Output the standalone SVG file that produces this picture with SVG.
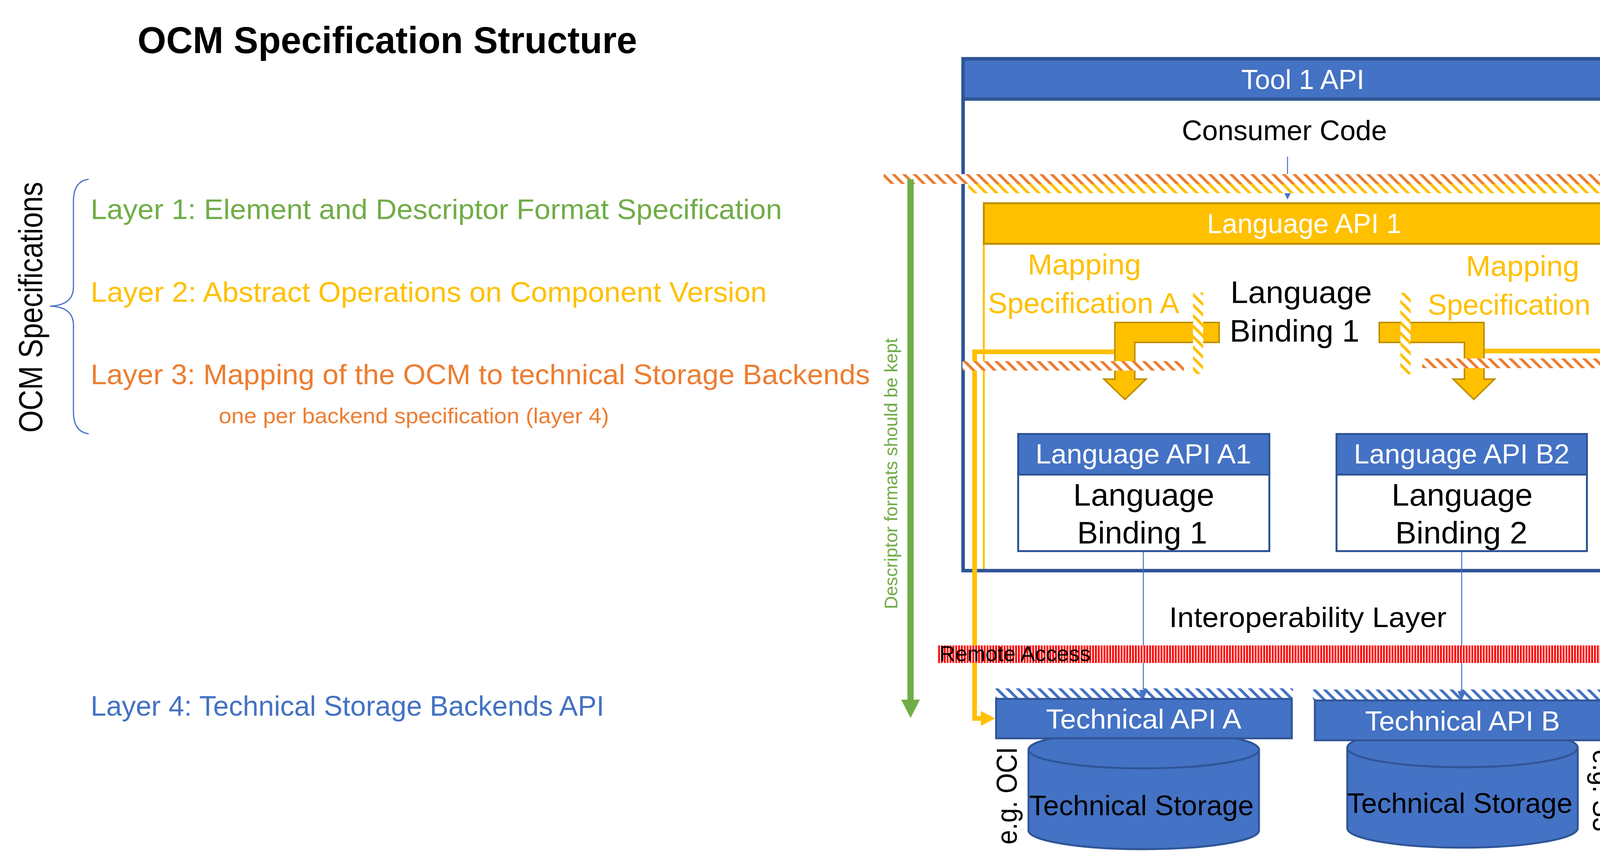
<svg xmlns="http://www.w3.org/2000/svg" width="4223" height="2218" viewBox="0 0 4223 2218">
<defs>
<style>
text { font-family: "Liberation Sans", Arial, sans-serif; }
.mid { text-anchor: middle; }
.wt { fill: #FFFFFF; }
.bk { fill: #000000; }
.yl { fill: #FFC000; }
.box { fill: #FFFFFF; stroke: #2F5597; stroke-width: 5; }
.hdr { fill: #4472C4; stroke: #2F5597; stroke-width: 5; }
.cyl { fill: #4472C4; stroke: #2F5597; stroke-width: 5; }
.ylink { fill: none; stroke: #FFC000; stroke-width: 12; }
.bent { fill: #FFC000; stroke: #BF9000; stroke-width: 4; stroke-linejoin: miter; }
.blink { fill: none; stroke: #4472C4; stroke-width: 2.5; }
</style>
<pattern id="hO" patternUnits="userSpaceOnUse" width="27" height="27">
<rect width="27" height="27" fill="#FFFFFF"/>
<polygon points="0,0 10,0 27,17 27,27" fill="#ED7D31"/>
<polygon points="0,17 0,27 10,27" fill="#ED7D31"/>
</pattern>
<pattern id="hY" patternUnits="userSpaceOnUse" width="27" height="27">
<rect width="27" height="27" fill="#FFFFFF"/>
<polygon points="0,0 10,0 27,17 27,27" fill="#FFC000"/>
<polygon points="0,17 0,27 10,27" fill="#FFC000"/>
</pattern>
<pattern id="hB" patternUnits="userSpaceOnUse" width="27" height="27">
<rect width="27" height="27" fill="#FFFFFF"/>
<polygon points="0,0 10,0 27,17 27,27" fill="#4472C4"/>
<polygon points="0,17 0,27 10,27" fill="#4472C4"/>
</pattern>
<pattern id="hR" patternUnits="userSpaceOnUse" width="7.3" height="20">
<rect width="7.3" height="20" fill="#FFFFFF"/>
<rect width="4.7" height="20" fill="#FF0000"/>
</pattern>
</defs>
<rect width="4223" height="2218" fill="#FFFFFF"/>

<g id="title">
<text x="352" y="136" font-size="96" font-weight="bold" class="bk" textLength="1279" lengthAdjust="spacingAndGlyphs">OCM Specification Structure</text>
</g>

<g id="ocm-specifications">
<text transform="translate(108,1108) rotate(-90)" font-size="86" class="bk" textLength="642" lengthAdjust="spacingAndGlyphs">OCM Specifications</text>
<path d="M227 459 Q188 464 188 515 L188 735 Q188 782 128 784 Q188 786 188 833 L188 1055 Q188 1106 227 1111" fill="none" stroke="#4472C4" stroke-width="3"/>
</g>

<g id="layer1"><text x="232" y="561" font-size="72" fill="#70AD47" textLength="1770" lengthAdjust="spacingAndGlyphs">Layer 1: Element and Descriptor Format Specification</text></g>
<g id="layer2"><text x="232" y="773" font-size="72" fill="#FFC000" textLength="1731" lengthAdjust="spacingAndGlyphs">Layer 2: Abstract Operations on Component Version</text></g>
<g id="layer3">
<text x="232" y="984" font-size="72" fill="#ED7D31" textLength="1995" lengthAdjust="spacingAndGlyphs">Layer 3: Mapping of the OCM to technical Storage Backends</text>
<text x="560" y="1084" font-size="56" fill="#ED7D31" textLength="999" lengthAdjust="spacingAndGlyphs">one per backend specification (layer 4)</text>
</g>
<g id="layer4"><text x="232" y="1833" font-size="72" fill="#4472C4" textLength="1315" lengthAdjust="spacingAndGlyphs">Layer 4: Technical Storage Backends API</text></g>

<g id="tool1-api">
<rect x="2465.5" y="150.5" width="1740" height="1311" fill="#FFFFFF" stroke="#2F5597" stroke-width="9"/>
<rect x="2465.5" y="150.5" width="1740" height="103" fill="#4472C4" stroke="#2F5597" stroke-width="9"/>
<text x="3335" y="228" font-size="70" class="wt mid">Tool 1 API</text>
<text x="3288" y="359" font-size="72" class="bk mid" textLength="525" lengthAdjust="spacingAndGlyphs">Consumer Code</text>
</g>

<g id="connectors-top">
<line x1="3296" y1="401" x2="3296" y2="500" class="blink"/>
</g>

<g id="boundary-top">
<rect x="2262" y="446" width="1961" height="25" fill="url(#hO)"/>
<rect x="2479" y="471" width="1744" height="24" fill="url(#hY)"/>
</g>

<g id="consumer-arrowhead">
<polygon points="3288,495 3304,495 3296,511" fill="#4472C4"/>
</g>

<g id="language-api-1">
<path d="M2518.5 1457 V622 M4161.5 622 V1457" fill="none" stroke="#FFC000" stroke-width="5"/>
<rect x="2518.5" y="520.5" width="1643" height="104" fill="#FFC000" stroke="#BF9000" stroke-width="5"/>
<text x="3339" y="597" font-size="70" class="wt mid">Language API 1</text>
<text x="3150" y="776" font-size="80" class="bk" textLength="362" lengthAdjust="spacingAndGlyphs">Language</text>
<text x="3148" y="875" font-size="80" class="bk" textLength="332" lengthAdjust="spacingAndGlyphs">Binding 1</text>
</g>

<g id="mapping-spec-a">
<text x="2776" y="703" font-size="74" class="yl mid" textLength="290" lengthAdjust="spacingAndGlyphs">Mapping</text>
<text x="2774" y="802" font-size="74" class="yl mid" textLength="490" lengthAdjust="spacingAndGlyphs">Specification A</text>
</g>
<g id="mapping-spec-b">
<text x="3898" y="707" font-size="74" class="yl mid" textLength="290" lengthAdjust="spacingAndGlyphs">Mapping</text>
<text x="3898" y="806" font-size="74" class="yl mid" textLength="486" lengthAdjust="spacingAndGlyphs">Specification B</text>
</g>

<g id="connectors">
<path d="M2856 901 H2495 V1840 H2515" class="ylink"/>
<path d="M3799 899 H4185 V1845 H4158" class="ylink"/>
<line x1="2927" y1="1413" x2="2927" y2="1778" class="blink"/>
<line x1="3742" y1="1413" x2="3742" y2="1780" class="blink"/>
</g>

<g id="bent-arrow-a">
<polygon points="3121,826 2854,826 2854,971 2826,971 2880,1023 2934,971 2905,971 2905,877 3121,877" class="bent"/>
</g>
<g id="bent-arrow-b">
<polygon points="3531,826 3799,826 3799,971 3826,971 3773,1023 3720,971 3749,971 3749,877 3531,877" class="bent"/>
</g>

<g id="boundaries-mapping">
<rect x="2464" y="925" width="567" height="24" fill="url(#hO)"/>
<rect x="3641" y="918" width="571" height="25" fill="url(#hO)"/>
<rect x="3054" y="749" width="26" height="209" fill="url(#hY)"/>
<rect x="3585" y="750" width="26" height="209" fill="url(#hY)"/>
</g>

<g id="language-api-a1">
<rect x="2606.5" y="1111.5" width="643" height="300" class="box"/>
<rect x="2606.5" y="1111.5" width="643" height="104" class="hdr"/>
<text x="2927" y="1187" font-size="70" class="wt mid" textLength="552" lengthAdjust="spacingAndGlyphs">Language API A1</text>
<text x="2928" y="1295" font-size="80" class="bk mid" textLength="361" lengthAdjust="spacingAndGlyphs">Language</text>
<text x="2924" y="1392" font-size="80" class="bk mid" textLength="333" lengthAdjust="spacingAndGlyphs">Binding 1</text>
</g>

<g id="language-api-b2">
<rect x="3421.5" y="1111.5" width="641" height="300" class="box"/>
<rect x="3421.5" y="1111.5" width="641" height="104" class="hdr"/>
<text x="3742" y="1187" font-size="70" class="wt mid" textLength="552" lengthAdjust="spacingAndGlyphs">Language API B2</text>
<text x="3743" y="1295" font-size="80" class="bk mid" textLength="361" lengthAdjust="spacingAndGlyphs">Language</text>
<text x="3741" y="1392" font-size="80" class="bk mid" textLength="338" lengthAdjust="spacingAndGlyphs">Binding 2</text>
</g>

<g id="interoperability-layer">
<text x="3348" y="1606" font-size="72" class="bk mid" textLength="710" lengthAdjust="spacingAndGlyphs">Interoperability Layer</text>
</g>

<g id="storage-a">
<path d="M2633 1920 L2633 2127 A295 48 0 0 0 3223 2127 L3223 1920 A295 48 0 0 0 2633 1920 Z" class="cyl"/>
<path d="M2633 1920 A295 48 0 0 0 3223 1920" fill="none" stroke="#2F5597" stroke-width="5"/>
<text x="2922" y="2088" font-size="72" class="bk mid" textLength="575" lengthAdjust="spacingAndGlyphs">Technical Storage</text>
</g>
<g id="storage-b">
<path d="M3449 1915 L3449 2121 A295 50 0 0 0 4039 2121 L4039 1915 A295 50 0 0 0 3449 1915 Z" class="cyl"/>
<path d="M3449 1915 A295 50 0 0 0 4039 1915" fill="none" stroke="#2F5597" stroke-width="5"/>
<text x="3737" y="2082" font-size="72" class="bk mid" textLength="577" lengthAdjust="spacingAndGlyphs">Technical Storage</text>
</g>

<g id="technical-api-a">
<rect x="2549" y="1763" width="761" height="25" fill="url(#hB)"/>
<rect x="2550" y="1790" width="757" height="101" class="hdr"/>
<text x="2928" y="1866" font-size="70" class="wt mid" textLength="500" lengthAdjust="spacingAndGlyphs">Technical API A</text>
</g>
<g id="technical-api-b">
<rect x="3361" y="1766" width="761" height="26" fill="url(#hB)"/>
<rect x="3366" y="1794" width="756" height="102" class="hdr"/>
<text x="3744" y="1871" font-size="70" class="wt mid" textLength="499" lengthAdjust="spacingAndGlyphs">Technical API B</text>
</g>

<g id="connector-heads">
<polygon points="2916,1767 2938,1767 2927,1790" fill="#4472C4"/>
<polygon points="3731,1770 3753,1770 3742,1793" fill="#4472C4"/>
<polygon points="2511,1821 2548,1840 2511,1859" fill="#FFC000"/>
<polygon points="4161,1826 4122,1845 4161,1864" fill="#FFC000"/>
</g>

<g id="remote-access">
<rect x="2399" y="1653" width="1824" height="45" fill="url(#hR)"/>
<text x="2405" y="1693" font-size="55" class="bk" textLength="387" lengthAdjust="spacingAndGlyphs">Remote Access</text>
</g>

<g id="descriptor-arrow">
<line x1="2331" y1="459" x2="2331" y2="1795" stroke="#70AD47" stroke-width="16"/>
<polygon points="2307,1792 2355,1792 2331,1839" fill="#70AD47"/>
<text transform="translate(2297,1560) rotate(-90)" font-size="46" fill="#70AD47" textLength="694" lengthAdjust="spacingAndGlyphs">Descriptor formats should be kept</text>
</g>

<g id="eg-labels">
<text transform="translate(2603,2163) rotate(-90)" font-size="74" class="bk" textLength="250" lengthAdjust="spacingAndGlyphs">e.g. OCI</text>
<text transform="translate(4078,1920) rotate(90)" font-size="74" class="bk" textLength="210" lengthAdjust="spacingAndGlyphs">e.g. S3</text>
</g>
</svg>
